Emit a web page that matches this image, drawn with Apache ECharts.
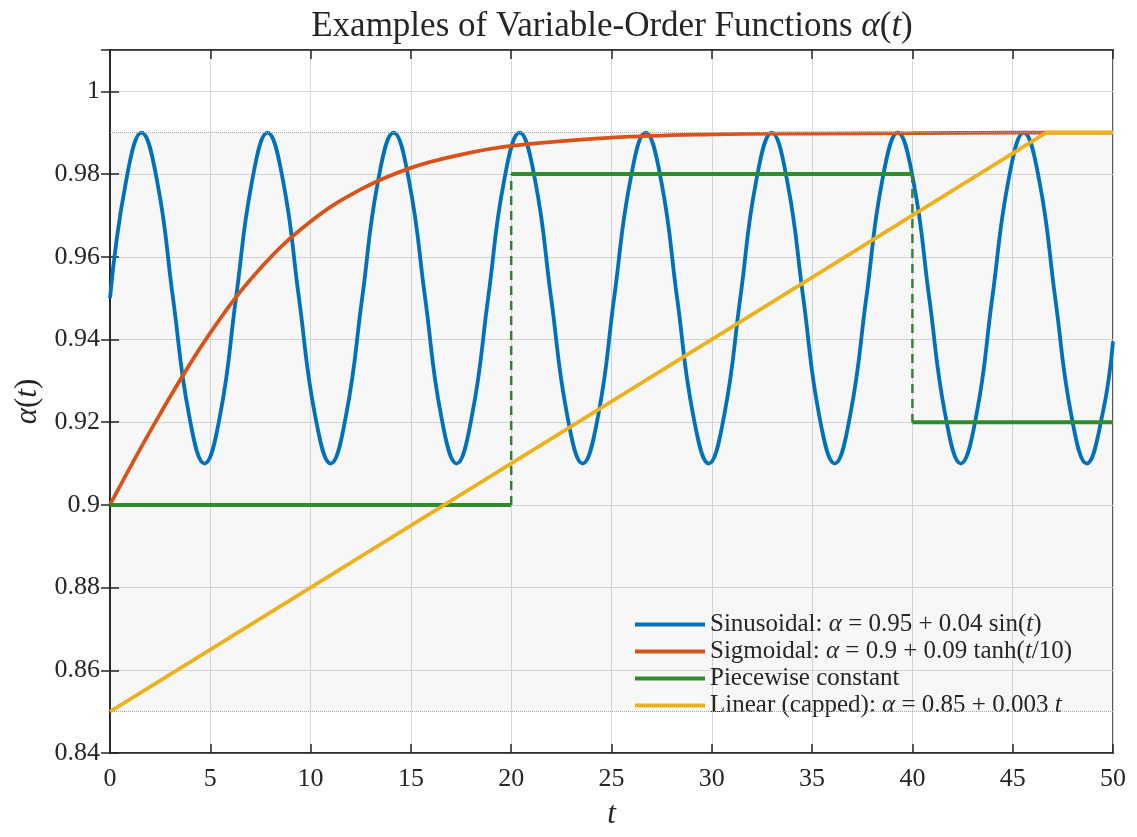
<!DOCTYPE html>
<html>
<head>
<meta charset="UTF-8">
<title>Variable-Order Functions</title>
<script src="https://cdn.jsdelivr.net/npm/echarts@6/dist/echarts.min.js"></script>
<style>
  html, body { margin: 0; padding: 0; background: #fff; }
  #main { width: 1137px; height: 837px; }
</style>
</head>
<body>
<div id="main"></div>
<script type="text/javascript">
// values
var xTicks = [0, 5, 10, 15, 20, 25, 30, 35, 40, 45, 50];
var yTicks = [0.84, 0.86, 0.88, 0.9, 0.92, 0.94, 0.96, 0.98, 1];

// sinusoid: peaks, troughs, mid crossings and quarter points
var sinT = [0, 0.79, 1.57, 2.36, 3.14, 3.93, 4.71, 5.50, 6.28, 7.07, 7.85, 8.64, 9.42, 10.21,
  11.00, 11.78, 12.57, 13.35, 14.14, 14.92, 15.71, 16.49, 17.28, 18.06, 18.85, 19.63, 20.42,
  21.21, 21.99, 22.78, 23.56, 24.35, 25.13, 25.92, 26.70, 27.49, 28.27, 29.06, 29.85, 30.63,
  31.42, 32.20, 32.99, 33.77, 34.56, 35.34, 36.13, 36.91, 37.70, 38.48, 39.27, 40.06, 40.84,
  41.63, 42.41, 43.20, 43.98, 44.77, 45.55, 46.34, 47.12, 47.91, 48.69, 49.48, 50];
var sinA = [0.95, 0.978, 0.99, 0.978, 0.95, 0.922, 0.91, 0.922,
  0.95, 0.978, 0.99, 0.978, 0.95, 0.922, 0.91, 0.922,
  0.95, 0.978, 0.99, 0.978, 0.95, 0.922, 0.91, 0.922,
  0.95, 0.978, 0.99, 0.978, 0.95, 0.922, 0.91, 0.922,
  0.95, 0.978, 0.99, 0.978, 0.95, 0.922, 0.91, 0.922,
  0.95, 0.978, 0.99, 0.978, 0.95, 0.922, 0.91, 0.922,
  0.95, 0.978, 0.99, 0.978, 0.95, 0.922, 0.91, 0.922,
  0.95, 0.978, 0.99, 0.978, 0.95, 0.922, 0.91, 0.922, 0.9395];

var sigT = [0, 2.5, 5, 7.5, 10, 12.5, 15, 17.5, 20, 25, 30, 35, 40, 45, 50];
var sigA = [0.9, 0.922, 0.9416, 0.9572, 0.9685, 0.9763, 0.9815, 0.9847, 0.9868,
  0.9888, 0.9896, 0.9898, 0.9899, 0.99, 0.99];

var pieceT = [[0, 20], [20, 40], [40, 50]];
var pieceA = [0.9, 0.98, 0.92];

var linT = [0, 46.67, 50];
var linA = [0.85, 0.99, 0.99];

var bandLow = 0.85, bandHigh = 0.99;

var serif = 'Liberation Serif';
var ink = '#262626';

function pairs(xs, ys) {
  var out = [];
  for (var i = 0; i < xs.length; i++) out.push([xs[i], ys[i]]);
  return out;
}

var series = [];
series.push({
  name: 'Sinusoidal', type: 'line', data: pairs(sinT, sinA), smooth: 0.45,
  showSymbol: false, lineStyle: { color: '#0072BD', width: 3.8 }, itemStyle: { color: '#0072BD' },
  z: 3,
  markArea: {
    silent: true,
    itemStyle: { color: 'rgba(0,0,0,0.03)' },
    data: [[{ yAxis: bandLow }, { yAxis: bandHigh }]]
  },
  markLine: {
    silent: true, symbol: 'none', label: { show: false },
    lineStyle: { color: '#a8a8a8', type: 'dotted', width: 1 },
    data: [{ yAxis: bandLow }, { yAxis: bandHigh }]
  }
});
series.push({
  name: 'Sigmoidal', type: 'line', data: pairs(sigT, sigA), smooth: 0.4,
  showSymbol: false, lineStyle: { color: '#D95319', width: 3.8 }, itemStyle: { color: '#D95319' }, z: 4
});
pieceT.forEach(function (seg, i) {
  series.push({
    name: 'Piecewise constant', type: 'line',
    data: [[seg[0], pieceA[i]], [seg[1], pieceA[i]]],
    showSymbol: false, lineStyle: { color: '#2E8B2E', width: 4 }, itemStyle: { color: '#2E8B2E' }, z: 5
  });
  if (i > 0) {
    series.push({
      type: 'line', data: [[seg[0], pieceA[i - 1]], [seg[0], pieceA[i]]],
      showSymbol: false, lineStyle: { color: '#3A7D3A', width: 2.5, type: [9, 6] }, z: 5
    });
  }
});
series.push({
  name: 'Linear (capped)', type: 'line', data: pairs(linT, linA),
  showSymbol: false, lineStyle: { color: '#EDB120', width: 3.8 }, itemStyle: { color: '#EDB120' }, z: 6
});

var legendText = {
  'Sinusoidal': 'Sinusoidal: {i|α} = 0.95 + 0.04 sin({i|t})',
  'Sigmoidal': 'Sigmoidal: {i|α} = 0.9 + 0.09 tanh({i|t}/10)',
  'Piecewise constant': 'Piecewise constant',
  'Linear (capped)': 'Linear (capped): {i|α} = 0.85 + 0.003 {i|t}'
};

var axisCommon = {
  type: 'value',
  axisLine: { show: true, lineStyle: { color: ink, width: 1.5 } },
  axisTick: { show: true, inside: true, length: 9, lineStyle: { color: ink, width: 1.5 } }
};

var myChart = echarts.init(document.getElementById('main'));
var option = {
  animation: false,
  backgroundColor: '#fff',
  graphic: [{
    type: 'text', x: 612, y: 27,
    style: {
      text: 'Examples of Variable-Order Functions {i|α}({i|t})',
      font: '35px "' + serif + '"', fill: ink, align: 'center', verticalAlign: 'middle',
      rich: { i: { fontStyle: 'italic', fontFamily: serif, fontSize: 35, fill: ink } }
    }
  }],
  grid: {
    left: 110, right: 24, top: 50, bottom: 84, outerBoundsMode: 'none',
    show: true, borderColor: ink, borderWidth: 1.5, backgroundColor: '#fff'
  },
  legend: {
    data: ['Sinusoidal', 'Sigmoidal', 'Piecewise constant', 'Linear (capped)'],
    orient: 'vertical', left: 630, top: 607,
    itemWidth: 70, itemHeight: 4, itemGap: 2, icon: 'rect',
    selectedMode: false,
    formatter: function (name) { return legendText[name]; },
    textStyle: {
      fontFamily: serif, fontSize: 25, color: ink, lineHeight: 25,
      rich: { i: { fontStyle: 'italic', fontFamily: serif, fontSize: 25, color: ink } }
    }
  },
  xAxis: [
    Object.assign({}, axisCommon, {
      min: xTicks[0], max: xTicks[xTicks.length - 1], interval: 5, position: 'bottom',
      name: '{i|t}', nameLocation: 'middle', nameGap: 46,
      nameTextStyle: { rich: { i: { fontStyle: 'italic', fontFamily: serif, fontSize: 31, color: ink } } },
      axisLabel: { fontFamily: serif, fontSize: 26, color: ink, margin: 13 },
      splitLine: { show: true, lineStyle: { color: '#dadada', width: 1 } }
    }),
    Object.assign({}, axisCommon, {
      min: xTicks[0], max: xTicks[xTicks.length - 1], interval: 5, position: 'top',
      axisLabel: { show: false }, splitLine: { show: false }
    })
  ],
  yAxis: [
    Object.assign({}, axisCommon, {
      min: yTicks[0], max: 1.01, interval: 0.02, position: 'left',
      name: '{i|α}{n|(}{i|t}{n|)}', nameLocation: 'middle', nameGap: 65,
      nameTextStyle: {
        rich: {
          i: { fontStyle: 'italic', fontFamily: serif, fontSize: 31, color: ink },
          n: { fontFamily: serif, fontSize: 31, color: ink }
        }
      },
      axisLabel: {
        fontFamily: serif, fontSize: 26, color: ink, margin: 10, showMaxLabel: false,
        formatter: function (v) { return String(Number(v.toFixed(2))); }
      },
      splitLine: { show: true, lineStyle: { color: '#dadada', width: 1 } }
    }),
    Object.assign({}, axisCommon, {
      min: yTicks[0], max: 1.01, interval: 0.02, position: 'right',
      axisLabel: { show: false }, splitLine: { show: false }
    })
  ],
  series: series
};
myChart.setOption(option);
</script>
</body>
</html>
